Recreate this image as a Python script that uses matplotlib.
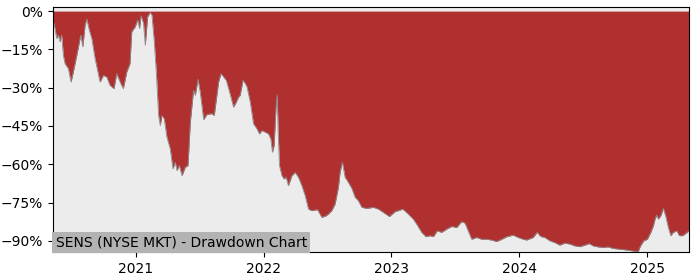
#%%
import matplotlib
matplotlib.use("Agg")
import matplotlib.pyplot as plt
import matplotlib.ticker as mticker
import numpy as np
import pandas as pd

plt.rcParams["figure.dpi"] = 100
plt.rcParams["axes.unicode_minus"] = True

# %%
# drawdown, time as decimal year, values in percent
year_frac = [
    2020.353, 2020.361, 2020.382, 2020.395, 2020.408, 2020.421, 2020.434, 2020.447,
    2020.473, 2020.494, 2020.512, 2020.539, 2020.570, 2020.586, 2020.604, 2020.617,
    2020.637, 2020.656, 2020.682, 2020.721, 2020.747, 2020.773, 2020.799, 2020.830,
    2020.851, 2020.883, 2020.903, 2020.930, 2020.955, 2020.969, 2020.995, 2021.013,
    2021.028, 2021.039, 2021.059, 2021.073, 2021.091, 2021.112, 2021.125, 2021.143,
    2021.159, 2021.177, 2021.190, 2021.203, 2021.221, 2021.242, 2021.268, 2021.289,
    2021.307, 2021.321, 2021.339, 2021.360, 2021.385, 2021.407, 2021.425, 2021.450,
    2021.464, 2021.485, 2021.503, 2021.529, 2021.555, 2021.594, 2021.612, 2021.633,
    2021.646, 2021.665, 2021.685, 2021.706, 2021.732, 2021.763, 2021.784, 2021.802,
    2021.815, 2021.837, 2021.855, 2021.868, 2021.894, 2021.919, 2021.946, 2021.966,
    2021.985, 2022.011, 2022.037, 2022.055, 2022.068, 2022.081, 2022.097, 2022.105,
    2022.113, 2022.123, 2022.142, 2022.160, 2022.175, 2022.193, 2022.220, 2022.246,
    2022.271, 2022.298, 2022.324, 2022.350, 2022.376, 2022.420, 2022.454, 2022.488,
    2022.506, 2022.532, 2022.558, 2022.584, 2022.597, 2022.615, 2022.636, 2022.662,
    2022.689, 2022.715, 2022.740, 2022.767, 2022.806, 2022.858, 2022.897, 2022.936,
    2022.983, 2023.027, 2023.088, 2023.131, 2023.170, 2023.197, 2023.236, 2023.270,
    2023.301, 2023.327, 2023.358, 2023.392, 2023.432, 2023.471, 2023.510, 2023.549,
    2023.575, 2023.600, 2023.627, 2023.666, 2023.705, 2023.744, 2023.783, 2023.823,
    2023.862, 2023.901, 2023.952, 2023.991, 2024.031, 2024.057, 2024.109, 2024.140,
    2024.167, 2024.200, 2024.239, 2024.278, 2024.317, 2024.357, 2024.396, 2024.435,
    2024.474, 2024.513, 2024.547, 2024.578, 2024.617, 2024.656, 2024.695, 2024.734,
    2024.787, 2024.839, 2024.891, 2024.930, 2024.948, 2024.974, 2025.000, 2025.027,
    2025.047, 2025.060, 2025.074, 2025.086, 2025.105, 2025.125, 2025.146, 2025.164,
    2025.183, 2025.203, 2025.230, 2025.250, 2025.277, 2025.300, 2025.326,
]
drawdown = [
    -4.5, -4.8, -10.7, -9.4, -12.0, -9.4, -17.3, -20.6,
    -22.5, -27.8, -23.8, -17.3, -9.4, -14.0, -5.5, -3.1,
    -7.5, -10.7, -18.6, -27.8, -25.2, -25.8, -29.1, -30.4,
    -24.5, -28.4, -30.4, -23.8, -20.6, -8.1, -6.2, -3.5,
    -6.8, -1.8, -4.8, -13.4, -2.2, -0.5, -1.6, -12.0,
    -23.8, -40.9, -44.8, -40.9, -42.2, -49.4, -54.0, -61.8,
    -59.2, -62.5, -60.5, -64.5, -61.2, -60.5, -43.5, -31.1,
    -33.0, -26.7, -32.0, -42.5, -40.5, -40.2, -40.9, -33.0,
    -27.8, -24.5, -25.8, -27.1, -31.7, -37.6, -35.7, -33.7,
    -33.0, -27.1, -28.4, -29.7, -35.7, -44.1, -46.1, -48.1,
    -46.8, -47.4, -48.1, -50.0, -55.3, -52.7, -36.9, -32.7,
    -47.4, -60.5, -64.5, -65.8, -65.1, -68.4, -64.5, -63.2,
    -65.1, -68.4, -72.3, -77.6, -78.2, -77.8, -80.8, -80.2,
    -79.5, -78.2, -75.6, -69.0, -63.2, -59.2, -65.1, -67.1,
    -69.5, -73.0, -74.3, -76.9, -77.3, -76.9, -77.6, -78.9,
    -80.5, -78.6, -77.6, -79.5, -81.5, -83.5, -86.7, -88.4,
    -88.0, -88.4, -86.1, -86.7, -85.4, -84.4, -84.8, -82.5,
    -83.1, -86.1, -89.4, -88.7, -89.4, -89.4, -89.7, -90.3,
    -89.4, -88.4, -87.8, -88.7, -89.4, -89.7, -88.7, -86.7,
    -88.3, -88.7, -90.0, -90.7, -91.7, -90.9, -91.3, -92.0,
    -92.3, -91.7, -91.1, -92.0, -92.4, -92.6, -92.4, -93.0,
    -93.3, -93.6, -94.0, -94.3, -92.0, -90.0, -89.4, -86.7,
    -84.1, -81.5, -79.9, -81.5, -80.2, -77.3, -80.8, -84.8,
    -88.0, -86.7, -86.1, -88.0, -88.0, -87.1, -86.1,
]
title = "SENS (NYSE MKT) - Drawdown Chart"
yticks = [0, -15, -30, -45, -60, -75, -90]

#%%
yf = np.array(year_frac)
yr = np.floor(yf).astype(int)
dates = [pd.Timestamp(int(y), 1, 1) + pd.Timedelta(days=float(f) * 365.25)
         for y, f in zip(yr, yf - yr)]
dd = np.array(drawdown)

fig = plt.figure(figsize=(7, 2.8))
ax = fig.add_axes([0.0757, 0.099, 0.9086, 0.876])
ax.set_facecolor("#ececec")
ax.fill_between(dates, dd, 0, color="#b03030", linewidth=0)
ax.plot(dates, dd, color="#8a8a8a", linewidth=0.6)

ax.set_xlim(dates[0], dates[-1])
ax.set_ylim(-94.5, 1.6)
ax.set_yticks(yticks)
ax.yaxis.set_major_formatter(mticker.PercentFormatter(decimals=0))
ax.xaxis.set_major_locator(matplotlib.dates.YearLocator())
ax.xaxis.set_major_formatter(matplotlib.dates.DateFormatter("%Y"))

ax.text(0.004, 0.012, title, transform=ax.transAxes, fontsize=10,
        ha="left", va="bottom",
        bbox=dict(facecolor="#b3b3b3", edgecolor="none", boxstyle="square,pad=0.25"))

plt.savefig("out.png")
